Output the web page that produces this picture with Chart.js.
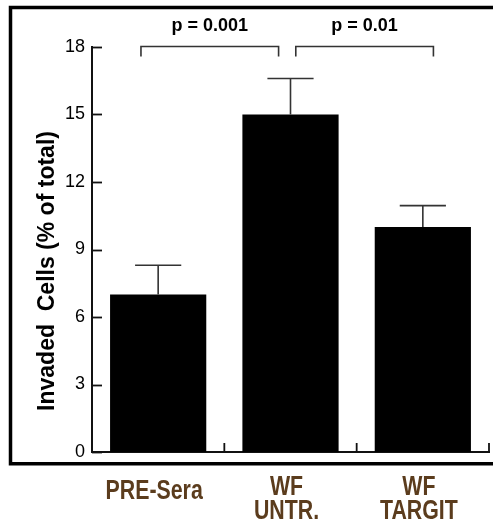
<!DOCTYPE html>
<html>
<head>
<meta charset="utf-8">
<script src="https://cdn.jsdelivr.net/npm/chart.js@4"></script>
<style>
    body { margin: 0; background: #fff; }
    canvas { display: block; }
</style>
</head>
<body>
<canvas id="graphique-invasion" width="493" height="524"></canvas>
<script>
// Données
const categories = [["PRE-Sera"], ["WF", "UNTR."], ["WF", "TARGIT"]];
const valeurs = [7, 15, 10];
const erreursHautes = [8.3, 16.6, 10.95];
const ticksY = [0, 3, 6, 9, 12, 15, 18];
const comparaisons = [[0, 1], [1, 2]];
const pLabels = ["p = 0.001", "p = 0.01"];

const brun = "#5b3c1d";
const trait = "#111";

// Dessin des éléments autour des barres (ticks internes, étiquettes, erreurs, crochets, cadre)
const annotations = {
    id: "annotations",
    afterDraw(chart) {
        const ctx = chart.ctx;
        const x = chart.scales.x;
        const y = chart.scales.y;
        const area = chart.chartArea;
        ctx.save();
        ctx.strokeStyle = trait;
        ctx.lineWidth = 1.8;

        // ticks de l'axe Y vers l'intérieur
        for (const v of ticksY) {
            const py = Math.round(y.getPixelForValue(v)) + 0.5;
            ctx.beginPath();
            ctx.moveTo(area.left, py);
            ctx.lineTo(area.left + 10, py);
            ctx.stroke();
        }
        // ticks de l'axe X vers le haut, entre les catégories
        for (let i = 0; i < categories.length; i++) {
            const px = x.getPixelForValue(i + 0.5);
            ctx.beginPath();
            ctx.moveTo(px, area.bottom);
            ctx.lineTo(px, area.bottom - 9);
            ctx.stroke();
        }

        // étiquettes des catégories, police étroite simulée
        ctx.fillStyle = brun;
        ctx.font = "bold 27px 'Liberation Sans', Arial, sans-serif";
        ctx.textAlign = "center";
        ctx.textBaseline = "alphabetic";
        for (let i = 0; i < categories.length; i++) {
            const lignes = categories[i];
            const cx = x.getPixelForValue(i) - 4;
            const base = lignes.length === 1 ? area.bottom + 47 : area.bottom + 43;
            for (let j = 0; j < lignes.length; j++) {
                ctx.save();
                ctx.translate(cx, base + j * 24);
                ctx.scale(0.79, 1);
                ctx.fillText(lignes[j], 0, 0);
                ctx.restore();
            }
        }

        // barres d'erreur (partie haute seulement)
        const meta = chart.getDatasetMeta(0);
        ctx.lineWidth = 1.6;
        ctx.strokeStyle = "#333";
        for (let i = 0; i < valeurs.length; i++) {
            const bar = meta.data[i];
            const haut = y.getPixelForValue(erreursHautes[i]);
            const demi = bar.width * 0.24;
            ctx.beginPath();
            ctx.moveTo(bar.x, y.getPixelForValue(valeurs[i]));
            ctx.lineTo(bar.x, haut);
            ctx.moveTo(bar.x - demi, haut);
            ctx.lineTo(bar.x + demi, haut);
            ctx.stroke();
        }

        // crochets de significativité
        const decalages = [[-0.13, -0.09], [0.04, 0.08]];
        ctx.lineWidth = 1.6;
        ctx.font = "bold 18px 'Liberation Sans', Arial, sans-serif";
        ctx.fillStyle = "#000";
        ctx.textAlign = "center";
        ctx.textBaseline = "middle";
        for (let k = 0; k < comparaisons.length; k++) {
            const x1 = x.getPixelForValue(comparaisons[k][0] + decalages[k][0]);
            const x2 = x.getPixelForValue(comparaisons[k][1] + decalages[k][1]);
            const yb = y.getPixelForValue(18) - 0.5;
            ctx.beginPath();
            ctx.moveTo(x1, yb + 10);
            ctx.lineTo(x1, yb);
            ctx.lineTo(x2, yb);
            ctx.lineTo(x2, yb + 10);
            ctx.stroke();
            ctx.fillText(pLabels[k], (x1 + x2) / 2, yb - 20);
        }

        // titre de l'axe Y
        ctx.save();
        ctx.translate(48, 271);
        ctx.rotate(-Math.PI / 2);
        ctx.font = "bold 23px 'Liberation Sans', Arial, sans-serif";
        ctx.fillText("Invaded  Cells (% of total)", 0, 0);
        ctx.restore();

        // cadre noir épais
        ctx.strokeStyle = "#000";
        ctx.lineWidth = 3.5;
        ctx.beginPath();
        ctx.moveTo(493, 7.5);
        ctx.lineTo(10.5, 7.5);
        ctx.lineTo(10.5, 463.8);
        ctx.lineTo(493, 463.8);
        ctx.stroke();
        ctx.restore();
    }
};

const config = {
    type: "bar",
    data: {
        labels: categories,
        datasets: [{
            data: valeurs,
            backgroundColor: "#000",
            borderWidth: 0,
            barPercentage: 1,
            categoryPercentage: 0.727,
        }],
    },
    options: {
        responsive: false,
        animation: false,
        layout: { padding: { top: 47, right: 4, left: 0, bottom: 0 } },
        plugins: {
            legend: { display: false },
            tooltip: { enabled: false },
        },
        scales: {
            x: {
                offset: true,
                grid: { display: false, drawTicks: false },
                border: { display: true, color: trait, width: 2 },
                ticks: { display: false },
                afterFit(scale) { scale.height = 72; },
            },
            y: {
                min: 0,
                max: 18,
                grid: { display: false, drawTicks: false },
                border: { display: true, color: trait, width: 2 },
                ticks: {
                    stepSize: 3,
                    padding: 7,
                    color: "#000",
                    font: { family: "'Liberation Sans', Arial, sans-serif", size: 18 },
                },
                afterFit(scale) { scale.width = 92; },
            },
        },
    },
    plugins: [annotations],
};

new Chart(document.querySelector("#graphique-invasion"), config);
</script>
</body>
</html>
